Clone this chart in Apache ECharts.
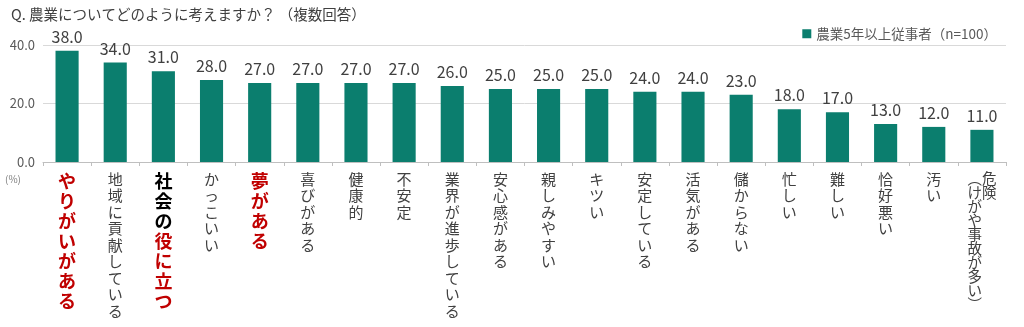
<!DOCTYPE html>
<html><head><meta charset="utf-8">
<script src="https://cdn.jsdelivr.net/npm/echarts@6/dist/echarts.min.js"></script>
<style>html,body{margin:0;padding:0;background:#fff}#c{width:1024px;height:327px}</style>
</head><body><div id="c"></div>
<script>
const categories = ['やりがいがある','地域に貢献している','社会の役に立つ','かっこいい','夢がある','喜びがある','健康的','不安定','業界が進歩している','安心感がある','親しみやすい','キツい','安定している','活気がある','儲からない','忙しい','難しい','恰好悪い','汚い','危険（けがや事故が多い）'];
const values = [38,34,31,28,27,27,27,27,26,25,25,25,24,24,23,18,17,13,12,11];
const yTicks = [0,20,40];
const seriesName = '農業5年以上従事者（n=100）';
const titleText = 'Q. 農業についてどのように考えますか？ （複数回答）';
const redLabels = ['やりがいがある','夢がある'];

const FONT = '"Noto Sans CJK JP","Noto Sans",sans-serif';
function vert(s, style){ return s.split('').map(c => '{' + style + '|' + c + '}').join('\n'); }
function fmt(v){
  if (redLabels.includes(v)) return vert(v,'r');
  if (v === '社会の役に立つ') return vert('社会の','k') + '\n' + vert('役に立つ','r');
  if (v.indexOf('（') >= 0) {
    const main = v.slice(0, v.indexOf('（'));
    const sub = '︵' + v.slice(v.indexOf('（')+1, v.indexOf('）')) + '︶';
    const rows = [];
    for (let i = 0; i < sub.length; i++) {
      const right = i < main.length ? main[i] : '　';
      rows.push('{p|' + sub[i] + right + '}');
    }
    return rows.join('\n');
  }
  return vert(v,'n');
}
const chart = echarts.init(document.getElementById('c'));
chart.setOption({
  animation:false,
  textStyle:{fontFamily:FONT},
  title:{text:titleText,left:6,top:2,textStyle:{fontSize:14.5,fontWeight:'normal',color:'#404040',fontFamily:FONT}},
  legend:{right:22,top:22,itemWidth:9,itemHeight:9,itemGap:4,icon:'rect',textStyle:{fontSize:13.5,color:'#595959',fontFamily:FONT}},
  graphic:[{type:'text',left:5,top:174,style:{text:'(%)',fontSize:10,fill:'#7f7f7f',fontFamily:FONT}}],
  grid:{left:43,right:18,top:45,bottom:165,outerBoundsMode:'none',containLabel:false},
  xAxis:{type:'category',data:categories,
    axisLine:{lineStyle:{color:'#bfbfbf'}},
    axisTick:{show:true,length:4,lineStyle:{color:'#bfbfbf'}},
    axisLabel:{interval:0,margin:9,verticalAlign:'top',formatter:fmt,
      rich:{
        n:{fontSize:15,lineHeight:16.5,color:'#404040',fontFamily:FONT,align:'center'},
        p:{fontSize:14.5,lineHeight:14,color:'#404040',fontFamily:FONT,align:'center'},
        r:{fontSize:18,lineHeight:20,color:'#c00000',fontWeight:'bold',fontFamily:FONT,align:'center'},
        k:{fontSize:18,lineHeight:20,color:'#000000',fontWeight:'bold',fontFamily:FONT,align:'center'}
      }}},
  yAxis:{type:'value',min:yTicks[0],max:yTicks[yTicks.length-1],interval:20,
    axisLabel:{formatter:v=>v.toFixed(1),fontSize:13,color:'#595959',margin:8,fontFamily:FONT},
    axisLine:{show:false},axisTick:{show:false},
    splitLine:{lineStyle:{color:'#d9d9d9'}}},
  series:[{name:seriesName,type:'bar',data:values,barWidth:'48%',
    itemStyle:{color:'#0b7e6e'},
    label:{show:true,position:'top',distance:6,formatter:p=>p.value.toFixed(1),fontSize:16,color:'#404040',fontFamily:FONT}}]
});
</script></body></html>
